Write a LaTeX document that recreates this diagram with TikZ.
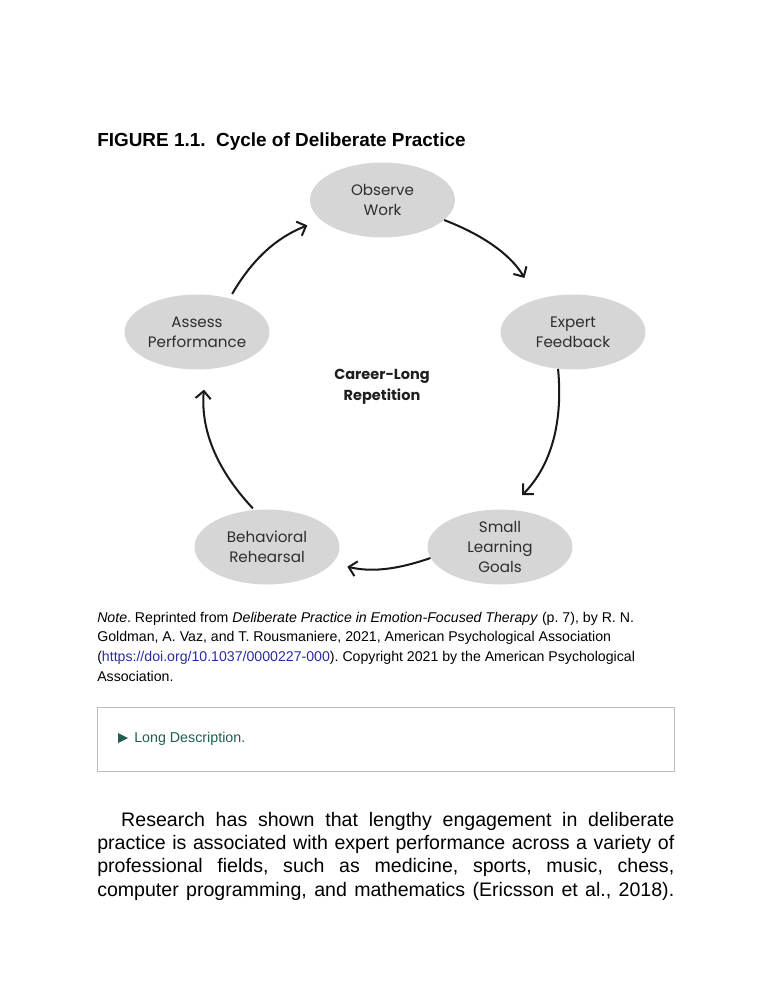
\documentclass[tikz,border=0pt]{standalone}
\usepackage{fontspec}
\setmainfont{Liberation Sans}
\newfontfamily\cyclefont{Poppins}
\usepackage{xcolor}
\usepackage{tikz}
\usetikzlibrary{arrows.meta,shapes.geometric}
\definecolor{phasegray}{HTML}{D6D6D6}
\definecolor{phasetext}{HTML}{2E2E2E}
\definecolor{linkblue}{HTML}{2B2BA6}
\definecolor{descgreen}{HTML}{1F5E50}
\definecolor{boxgray}{HTML}{BDBDBD}
\frenchspacing

\begin{document}
\begin{tikzpicture}[x=0.792pt,y=0.792pt,
  phase/.style={ellipse,fill=phasegray,minimum width=114.8pt,minimum height=59.4pt,inner sep=0pt,
    align=center,text=phasetext,font=\cyclefont\fontsize{12}{16}\selectfont},
  cyc/.style={-{Straight Barb[length=6pt,width=12pt]},line width=1.6pt,draw=black!90}]
  \useasboundingbox (0,0) rectangle (772,-1000);

  % Title
  \node[anchor=base west,inner sep=0pt,font=\bfseries\fontsize{15}{18}\selectfont] (title) at (97,-146)
    {FIGURE 1.1.\ \ Cycle of Deliberate Practice};

  % Cycle
  \node[phase] (obs) at (382.5,-200) {Observe\\Work};
  \node[phase] (fb)  at (573,-332) {Expert\\Feedback};
  \node[phase,inner ysep=-4pt] (slg) at (500,-547) {Small\\Learning\\Goals};
  \node[phase] (beh) at (267,-547) {Behavioral\\Rehearsal};
  \node[phase] (ap)  at (197,-332) {Assess\\Performance};
  \node[align=center,text=black!88,font=\cyclefont\bfseries\fontsize{11.5}{16.6}\selectfont] (hub) at (382,-387)
    {Career-Long\\Repetition};

  \draw[cyc,shorten >=19.5pt] (obs.-18) to[bend left=19.5] (fb.138);
  \draw[cyc,shorten >=16pt] (fb.-112) to[bend left=25] (slg.78);
  \draw[cyc,shorten >=12pt] (slg.189) to[bend left=16] (beh.-14);
  \draw[cyc,shorten >=16pt,shorten <=1.5pt] (beh.109) to[bend left=24] (ap.-77);
  \draw[cyc,shorten >=11.5pt,shorten <=4pt] (ap.46) to[bend left=19] (obs.198);

  % Note
  \node[anchor=base west,inner sep=0pt,font=\fontsize{11.2}{15.6}\selectfont] (note) at (97,-622)
    {\parbox[t]{490pt}{\raggedright
      \textit{Note}. Reprinted from \textit{Deliberate Practice in Emotion-Focused Therapy} (p.~7), by R.~N.\\
      Goldman, A. Vaz, and T. Rousmaniere, 2021, American Psychological Association\\
      (\textcolor{linkblue}{https://doi.org/10.1037/0000227-000}). Copyright 2021 by the American Psychological\\
      Association.}};

  % Long description box
  \node[draw=boxgray,line width=0.8pt,anchor=north west,minimum width=457pt,minimum height=50.7pt,inner sep=0pt] (desc) at (97,-707) {};
  \fill[descgreen] (118,-733) -- (128,-738) -- (118,-743) -- cycle;
  \node[anchor=base west,inner sep=0pt,text=descgreen,font=\fontsize{11.3}{14}\selectfont] (desctext) at (134,-742)
    {Long Description.};

  % Body text
  \node[anchor=base west,inner sep=0pt,font=\fontsize{15.5}{18.5}\selectfont] (body) at (97,-826)
    {\parbox[t]{457pt}{\parfillskip=0pt\tolerance=10000
      \hspace*{19pt}Research has shown that lengthy engagement in deliberate\linebreak
      practice is associated with expert performance across a variety of\linebreak
      professional fields, such as medicine, sports, music, chess,\linebreak
      computer programming, and mathematics (Ericsson et al., 2018).}};
\end{tikzpicture}
\end{document}
